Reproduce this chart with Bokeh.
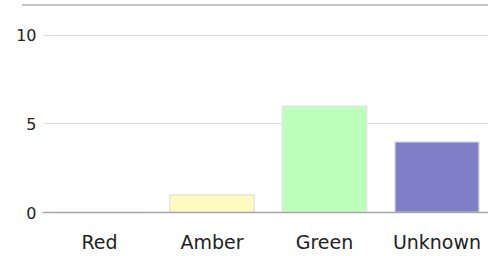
from bokeh.plotting import figure
from bokeh.models import Range1d, FixedTicker, Div
from bokeh.layouts import column
from bokeh.embed import file_html
from bokeh.resources import INLINE

categories = ["Red", "Amber", "Green", "Unknown"]
counts = [0, 1, 6, 4]
bar_colors = ["#FFBBBB", "#FFFBC0", "#BBFFBB", "#7F7FC7"]
y_ticks = [0, 5, 10]

xs = list(range(len(categories)))

p = figure(width=488, height=256, output_backend="svg", toolbar_location=None,
           x_range=Range1d(-0.507, 3.458), y_range=Range1d(0, 11.75),
           min_border_left=42, min_border_right=0, min_border_top=4, min_border_bottom=44)
p.outline_line_color = None
p.background_fill_color = "white"
p.border_fill_color = "white"

p.vbar(x=xs, top=counts, width=0.75, bottom=0, fill_color=bar_colors,
       line_color="#e4e4e4", line_width=1.5)

p.xaxis.ticker = FixedTicker(ticks=xs)
p.xaxis.major_label_overrides = {i: c for i, c in enumerate(categories)}
p.xaxis.major_tick_line_color = None
p.xaxis.minor_tick_line_color = None
p.xaxis.axis_line_color = "#a8a8a8"
p.xaxis.axis_line_width = 1.5
p.xaxis.major_label_standoff = 12
p.xaxis.major_label_text_font = "DejaVu Sans"
p.xaxis.major_label_text_font_size = "19px"
p.xaxis.major_label_text_color = "#222222"
p.xgrid.grid_line_color = None

p.yaxis.ticker = FixedTicker(ticks=y_ticks)
p.yaxis.axis_line_color = None
p.yaxis.major_tick_line_color = None
p.yaxis.minor_tick_line_color = None
p.yaxis.major_label_standoff = 0
p.yaxis.major_label_text_font = "DejaVu Sans"
p.yaxis.major_label_text_font_size = "16px"
p.yaxis.major_label_text_color = "#222222"
p.ygrid.grid_line_color = "#dcdcdc"
p.ygrid.grid_line_width = 1

# top rule (overlay)
rule = Div(text="", width=466, height=2, margin=0,
           styles={"position": "absolute", "top": "4px", "left": "22px",
                   "width": "466px", "height": "2px", "background-color": "#c4c4c4"})

layout = column(p, rule)

open("out.html", "w").write(file_html(layout, INLINE))
